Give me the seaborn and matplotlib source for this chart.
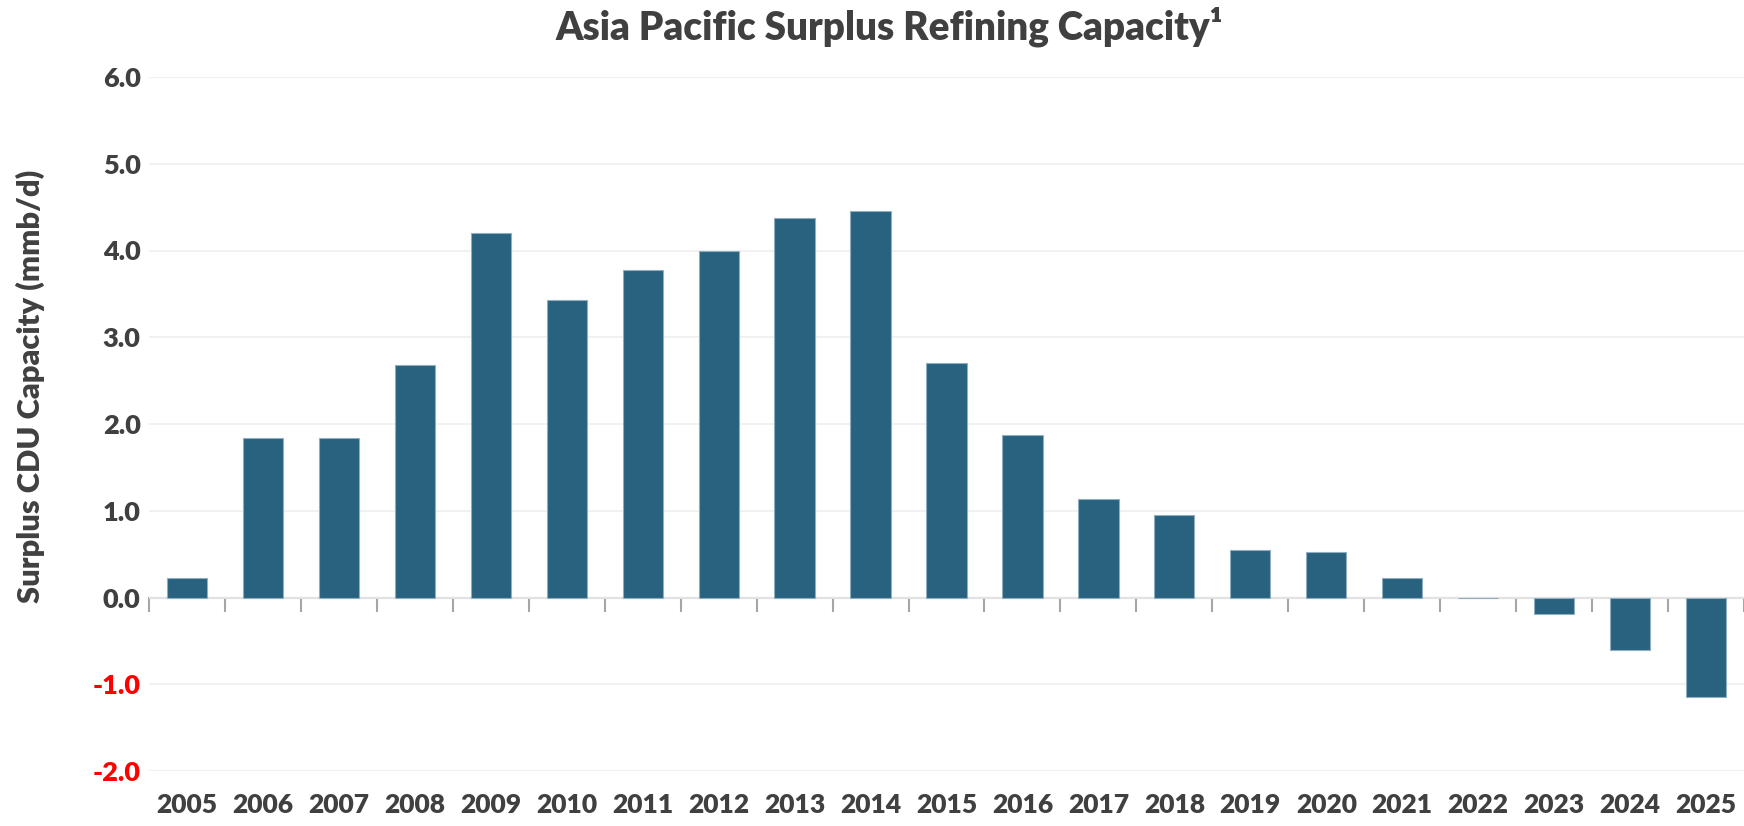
import matplotlib
matplotlib.use("Agg")
import matplotlib.pyplot as plt
import seaborn as sns
import numpy as np
import pandas as pd

years = ["2005", "2006", "2007", "2008", "2009", "2010", "2011", "2012", "2013", "2014",
         "2015", "2016", "2017", "2018", "2019", "2020", "2021", "2022", "2023", "2024", "2025"]
surplus = [0.23, 1.84, 1.84, 2.68, 4.20, 3.43, 3.77, 3.99, 4.37, 4.46,
           2.70, 1.87, 1.14, 0.95, 0.55, 0.52, 0.23, 0.0, -0.19, -0.60, -1.15]
yticks = [-2.0, -1.0, 0.0, 1.0, 2.0, 3.0, 4.0, 5.0, 6.0]

title = "Asia Pacific Surplus Refining Capacity\u00b9"
ylabel = "Surplus CDU Capacity (mmb/d)"

sns.set_theme(style="white")
plt.rcParams["font.family"] = ["Lato", "DejaVu Sans"]
plt.rcParams["font.weight"] = "bold"

TXT = "#404040"
BAR = "#28627F"
W = "heavy"

df = pd.DataFrame({"year": years, "surplus": surplus})

fig = plt.figure(figsize=(17.44, 8.26), dpi=100)
ax = fig.add_axes([149 / 1744, 55 / 826, 1 - 149 / 1744, (771 - 77) / 826])

sns.barplot(data=df, x="year", y="surplus", color=BAR, saturation=1, width=0.53,
            edgecolor="#8FAFC0", linewidth=0.8, ax=ax)

ax.set_xlim(-0.5, len(years) - 0.5)
ax.set_ylim(yticks[0], yticks[-1])
ax.set_yticks(yticks)
ax.set_yticklabels([f"{v:.1f}" for v in yticks])
ax.yaxis.grid(True, color="#EFEFEF", linewidth=1.2)
ax.set_axisbelow(True)
for s in ax.spines.values():
    s.set_visible(False)

ax.tick_params(axis="y", length=0, pad=6, labelsize=19.5, labelcolor=TXT)
ax.tick_params(axis="x", length=0, pad=16, labelsize=19, labelcolor=TXT)
for lbl, v in zip(ax.get_yticklabels(), yticks):
    lbl.set_fontweight(W)
    if v < 0:
        lbl.set_color("#FF0000")
for lbl in ax.get_xticklabels():
    lbl.set_fontweight(W)
ax.set_xlabel("")
ax.set_ylabel("")

# zero baseline with category-boundary tick marks
sec = ax.secondary_xaxis(0, transform=ax.transData)
sec.set_xticks(np.arange(len(years) + 1) - 0.5)
sec.set_xticklabels([])
sec.tick_params(axis="x", length=10, width=1.5, color="#A6A6A6", direction="out")
sec.spines["bottom"].set_color("#A6A6A6")
sec.spines["bottom"].set_linewidth(1.5)

fig.text(889 / 1744, 1 - 27 / 826, title, ha="center", va="center",
         fontsize=27.8, fontweight=W, color=TXT)
fig.text(30 / 1744, 1 - 386 / 826, ylabel, ha="center", va="center", rotation=90,
         fontsize=22.2, fontweight=W, color=TXT)

fig.savefig("out.png", dpi=100, facecolor="white")
